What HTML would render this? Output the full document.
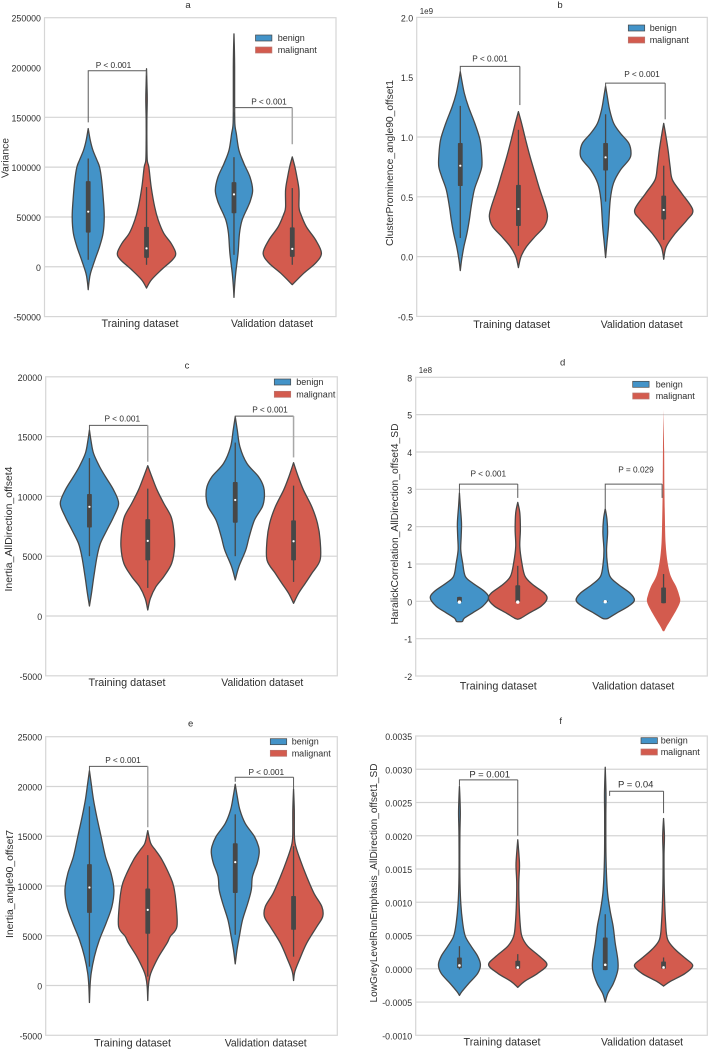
<!DOCTYPE html>
<html lang="en">
<head>
<meta charset="utf-8">
<title>Violin plots of radiomic features</title>
<style>
html,body{margin:0;padding:0;background:#fff;}
svg{display:block;font-family:"Liberation Sans",sans-serif;}
text{fill:#2e2e2e;}
</style>
</head>
<body>
<svg id="figure" xmlns="http://www.w3.org/2000/svg" width="709" height="1049" viewBox="0 0 709 1049"></svg>
<script>
/* ---------- shared categories ---------- */
const categories = ["Training dataset", "Validation dataset"];
const hues = ["benign", "malignant"];
const hueColors = ["#4393c8", "#d35b4e"];

/* ---------- panel a ---------- */
const aTicks = [-50000, 0, 50000, 100000, 150000, 200000, 250000];
const aTickLabels = ["-50000", "0", "50000", "100000", "150000", "200000", "250000"];
const aGrid = [0, 50000, 100000, 150000];
const aBenignTrainValues = [138700, 127000, 117000, 107000, 100000, 87000, 67000, 50000, 33700, 20300, 7000, -6300, -14700, -23000];
const aBenignTrainDensity = [0, .07, .16, .30, .39, .46, .52, .55, .51, .39, .23, .08, .03, 0];
const aBenignTrainBox = [7000, 34300, 55300, 86000, 108700];
const aMalignantTrainValues = [198700, 182000, 168000, 147000, 127000, 107000, 100000, 80000, 60000, 47000, 33700, 23700, 13700, 7000, -3000, -13000, -21300];
const aMalignantTrainDensity = [0, .015, .025, .012, .012, .025, .08, .16, .28, .40, .59, .84, 1, .89, .51, .17, 0];
const aMalignantTrainBox = [2000, 9000, 18500, 40000, 80000];
const aBenignValidValues = [233700, 217000, 200000, 167000, 143700, 133700, 117000, 103700, 90000, 77000, 67000, 60300, 47000, 33700, 13700, -6300, -20000, -30700];
const aBenignValidDensity = [0, .015, .022, .022, .03, .08, .17, .34, .55, .64, .57, .48, .28, .19, .14, .06, .02, 0];
const aBenignValidBox = [12000, 53700, 72700, 85000, 110000];
const aMalignantValidValues = [110300, 100300, 90000, 77000, 60000, 53700, 40300, 27000, 13700, 3700, -6300, -18000];
const aMalignantValidDensity = [0, .09, .16, .23, .23, .28, .48, .80, 1, .80, .40, 0];
const aMalignantValidBox = [2000, 10000, 18000, 39500, 79000];
const aBrackets = [[-0.2, 0.2, 196700, 145000, 192000], [0.8, 1.2, 159700, 155000, 123000]];
const aBracketLabels = ["P < 0.001", "P < 0.001"];

/* ---------- panel b (x 1e9) ---------- */
const bTicks = [-0.5, 0, 0.5, 1, 1.5, 2];
const bTickLabels = ["-0.5", "0.0", "0.5", "1.0", "1.5", "2.0"];
const bGrid = [0, 0.5, 1];
const bBenignTrainValues = [1.546, 1.476, 1.365, 1.253, 1.114, .975, .836, .752, .669, .557, .418, .306, .195, .084, -.028, -.117];
const bBenignTrainDensity = [0, .05, .14, .28, .50, .68, .74, .74, .64, .48, .375, .31, .23, .125, .045, 0];
const bBenignTrainBox = [.155, .59, .76, .95, 1.26];
const bMalignantTrainValues = [1.212, 1.114, .975, .836, .696, .557, .418, .334, .251, .167, .084, 0, -.092];
const bMalignantTrainDensity = [0, .11, .25, .40, .57, .74, .93, 1, .89, .57, .28, .09, 0];
const bMalignantTrainBox = [.09, .256, .398, .6, 1.06];
const bBenignValidValues = [1.426, 1.337, 1.226, 1.114, 1.031, .947, .864, .808, .724, .613, .474, .251, .111, -.008];
const bBenignValidDensity = [0, .06, .14, .28, .51, .80, .875, .80, .51, .27, .16, .10, .045, 0];
const bBenignValidBox = [.46, .72, .83, .95, 1.19];
const bMalignantValidValues = [1.114, 1.031, .891, .752, .641, .529, .39, .306, .195, .084, -.022];
const bMalignantValidDensity = [0, .06, .15, .22, .30, .62, 1, .80, .40, .09, 0];
const bMalignantValidBox = [.14, .31, .39, .51, .76];
const bBrackets = [[-0.2, 0.21, 1.59, 1.546, 1.267], [0.8, 1.21, 1.45, 1.42, 1.148]];
const bBracketLabels = ["P < 0.001", "P < 0.001"];

/* ---------- panel c ---------- */
const cTicks = [-5000, 0, 5000, 10000, 15000, 20000];
const cTickLabels = ["-5000", "0", "5000", "10000", "15000", "20000"];
const cGrid = [0, 5000, 10000, 15000];
const cBenignTrainValues = [15546, 14710, 13600, 12480, 11645, 10530, 9417, 8300, 7190, 6070, 4960, 3290, 1900, 836];
const cBenignTrainDensity = [0, .05, .14, .35, .55, .83, 1, .83, .60, .375, .26, .15, .07, 0];
const cBenignTrainBox = [5000, 7400, 9130, 10200, 13200];
const cMalignantTrainValues = [12565, 11645, 10530, 9417, 8300, 7190, 5795, 4400, 3290, 2450, 1476, 500];
const cMalignantTrainDensity = [0, .14, .32, .55, .80, .89, .92, .82, .55, .28, .09, 0];
const cMalignantTrainBox = [2350, 4650, 6280, 8100, 10650];
const cBenignValidValues = [16660, 15545, 14150, 12760, 11645, 10810, 9974, 9138, 8024, 6630, 5516, 4123, 3009];
const cBenignValidDensity = [0, .07, .16, .40, .80, .97, 1, .93, .66, .48, .36, .125, 0];
const cBenignValidBox = [5000, 7800, 9700, 11200, 14500];
const cMalignantValidValues = [12815, 11645, 10530, 9138, 7745, 6350, 4680, 3566, 2730, 1894, 1059];
const cMalignantValidDensity = [0, .16, .34, .625, .82, .91, .91, .625, .40, .17, 0];
const cMalignantValidBox = [2850, 4650, 6250, 8000, 10900];
const cBrackets = [[-0.2, 0.2, 15940, 15546, 12900], [0.8, 1.2, 16716, 16520, 13260]];
const cBracketLabels = ["P < 0.001", "P < 0.001"];

/* ---------- panel d (x 1e8) ---------- */
const dTicks = [-2, -1, 0, 1, 2, 3, 4, 5, 6];
const dTickLabels = ["-2", "-1", "0", "1", "2", "3", "4", "5", "8"];
const dGrid = [-1, 0, 1, 2, 3, 4, 5];
const dBenignTrainValues = [2.90, 2.54, 2.1, 1.74, 1.38, 1.03, .67, .49, .27, .09, -.13, -.31, -.45, -.54, -.545];
const dBenignTrainDensity = [0, .03, .07, .06, .045, .11, .20, .45, .85, 1, .8, .45, .17, .1, 0];
const dBenignTrainBox = [-.02, -.02, -.02, .12, .12];
const dMalignantTrainValues = [2.65, 2.37, 1.92, 1.47, 1.03, .67, .45, .22, .06, -.13, -.31, -.45, -.48];
const dMalignantTrainDensity = [0, .07, .09, .07, .14, .25, .51, .91, 1, .8, .4, .11, 0];
const dMalignantTrainBox = [-.02, -.02, -.02, .43, .95];
const dBenignValidValues = [2.48, 2.19, 1.83, 1.38, 1.03, .67, .45, .22, .03, -.13, -.31, -.45, -.47];
const dBenignValidDensity = [0, .06, .08, .045, .07, .16, .45, .85, 1, .8, .4, .11, 0];
const dBenignValidBox = [-.02, -.02, -.01, .02, .02];
const dMalignantValidValues = [5.13, 4.06, 2.99, 2.28, 1.56, 1.03, .67, .40, .18, 0, -.22, -.49, -.67, -.79, -.8];
const dMalignantValidDensity = [0, .02, .03, .045, .07, .14, .25, .43, .53, .57, .45, .25, .11, .03, 0];
const dMalignantValidBox = [-.05, -.05, null, .37, .73];
const dBrackets = [[-0.2, 0.2, 3.14, 2.9, 2.77], [0.8, 1.19, 3.14, 2.5, 2.77]];
const dBracketLabels = ["P < 0.001", "P = 0.029"];

/* ---------- panel e ---------- */
const eTicks = [-5000, 0, 5000, 10000, 15000, 20000, 25000];
const eTickLabels = ["-5000", "0", "5000", "10000", "15000", "20000", "25000"];
const eGrid = [0, 5000, 10000, 15000, 20000];
const eBenignTrainValues = [21590, 20316, 18640, 16970, 14960, 12950, 11280, 9606, 7930, 6260, 4585, 2910, 1238, -100, -1707];
const eBenignTrainDensity = [0, .06, .14, .25, .40, .55, .74, .84, .77, .57, .34, .17, .06, .02, 0];
const eBenignTrainBox = [1900, 7300, 9850, 12200, 18000];
const eMalignantTrainValues = [15560, 14290, 13620, 12620, 10945, 9940, 8267, 5924, 4920, 4250, 2912, 1573, 900, -100, -1506];
const eMalignantTrainDensity = [0, .10, .26, .49, .77, .89, .97, 1, .77, .66, .375, .15, .07, .02, 0];
const eMalignantTrainBox = [900, 5200, 7600, 9750, 13100];
const eBenignValidValues = [20216, 18977, 17640, 16300, 14960, 13957, 13288, 12284, 10945, 9606, 8267, 6594, 4920, 3581, 2176];
const eBenignValidDensity = [0, .07, .16, .34, .66, .80, .82, .75, .59, .55, .43, .25, .14, .06, 0];
const eBenignValidBox = [5100, 9300, 12400, 14300, 17200];
const eMalignantValidValues = [19750, 17640, 14960, 13957, 12618, 10945, 9270, 7930, 6930, 5924, 4250, 2577, 1406, 502];
const eMalignantValidDensity = [0, .025, .03, .08, .23, .45, .70, .97, 1, .80, .45, .20, .045, 0];
const eMalignantValidBox = [2900, 5600, null, 9000, 14000];
const eBrackets = [[-0.2, 0.2, 22020, 21650, 15900], [0.8, 1.2, 20920, 20480, 19810]];
const eBracketLabels = ["P < 0.001", "P < 0.001"];

/* ---------- panel f ---------- */
const fTicks = [-0.001, -0.0005, 0, 0.0005, 0.001, 0.0015, 0.002, 0.0025, 0.003, 0.0035];
const fTickLabels = ["-0.0010", "-0.0005", "0.0000", "0.0005", "0.0010", "0.0015", "0.0020", "0.0025", "0.0030", "0.0035"];
const fGrid = [-0.0005, 0, 0.0005, 0.001, 0.0015, 0.002, 0.0025, 0.003];
const fBenignTrainValues = [.00274, .00259, .00234, .00199, .00139, .00099, .00069, .00049, .00034, .00019, .00006, -.00007, -.00022, -.00034, -.0004];
const fBenignTrainDensity = [0, .015, .03, .015, .015, .045, .11, .20, .40, .625, .72, .625, .32, .09, 0];
const fBenignTrainBox = [-.00001, .00001, .00005, .00017, .00034];
const fMalignantTrainValues = [.00194, .00169, .00154, .00129, .00099, .00069, .00049, .00034, .00019, .00006, -.00007, -.00019, -.00028];
const fMalignantTrainDensity = [0, .045, .06, .035, .045, .08, .14, .34, .74, 1, .68, .23, 0];
const fMalignantTrainBox = [0, 0, .00002, .00012, .00022];
const fBenignValidValues = [.00303, .00264, .00229, .00169, .00119, .00089, .00064, .00039, .00014, -.00002, -.00022, -.00037, -.0005];
const fBenignValidDensity = [0, .025, .02, .025, .07, .16, .27, .34, .43, .43, .28, .09, 0];
const fBenignValidBox = [-.00002, -.00002, .00006, .00047, .00082];
const fMalignantValidValues = [.00226, .00199, .00169, .00119, .00069, .00044, .00029, .00016, .00005, -.00007, -.00019, -.00026];
const fMalignantValidDensity = [0, .03, .015, .025, .07, .14, .40, .74, 1, .74, .23, 0];
const fMalignantValidBox = [0, 0, .00002, .00011, .00017];
const fBrackets = [[-0.2, 0.2, .00284, .00275, .002], [0.83, 1.2, .00267, .0026, .00234]];
const fBracketLabels = ["P = 0.001", "P = 0.04"];

/* ---------- drawing ---------- */
const NS = "http://www.w3.org/2000/svg";
const root = document.getElementById("figure");
function make(parent, tag, attrs, txt) {
  const el = document.createElementNS(NS, tag);
  for (const k in attrs) el.setAttribute(k, attrs[k]);
  if (txt !== undefined) el.textContent = txt;
  parent.appendChild(el);
  return el;
}
function smooth(pts) {
  let d = "L" + pts[0][0].toFixed(2) + " " + pts[0][1].toFixed(2);
  for (let i = 0; i < pts.length - 1; i++) {
    const p0 = pts[Math.max(i - 1, 0)], p1 = pts[i], p2 = pts[i + 1], p3 = pts[Math.min(i + 2, pts.length - 1)];
    const c1x = p1[0] + (p2[0] - p0[0]) / 6, c1y = p1[1] + (p2[1] - p0[1]) / 6;
    const c2x = p2[0] - (p3[0] - p1[0]) / 6, c2y = p2[1] - (p3[1] - p1[1]) / 6;
    d += "C" + c1x.toFixed(2) + " " + c1y.toFixed(2) + " " + c2x.toFixed(2) + " " + c2y.toFixed(2) + " " + p2[0].toFixed(2) + " " + p2[1].toFixed(2);
  }
  return d;
}
function drawPanel(p) {
  const g = make(root, "g", {});
  
  

  const yScale = v => p.bottom - (v - p.yMin) / (p.yMax - p.yMin) * (p.bottom - p.top);
  const xScale = c => p.left + (c + 0.5) / 2 * (p.right - p.left);
  const widthScale = d => d * 0.2 / 2 * (p.right - p.left);

  p.grid.forEach(v => {
    const line = make(g, "line", {x1: p.left, x2: p.right, y1: yScale(v), y2: yScale(v), stroke: "#d4d4d4", "stroke-width": 1.2});
    
    
  });

  const frame = make(g, "rect", {x: p.left, y: p.top, width: p.right - p.left, height: p.bottom - p.top, fill: "none", stroke: "#d6d6d6", "stroke-width": 1.2});
  
  

  p.ticks.forEach((v, i) => {
    const t = make(g, "text", {x: p.left - 3.6, y: yScale(v) + 4, "text-anchor": "end", "font-size": 8.8}, p.tickLabels[i]);
    
    
  });

  p.violins.forEach(vi => {
    const center = vi.cat + (vi.hue === 0 ? -0.2 : 0.2);
    const cx = xScale(center);
    const right = vi.values.map((v, i) => [cx + widthScale(vi.density[i]), yScale(v)]);
    const left = vi.values.map((v, i) => [cx - widthScale(vi.density[i]), yScale(v)]).reverse();
    const d = "M" + smooth(right).slice(1) + smooth(left) + "Z";
    const outline = vi.outline === false ? {stroke: "none"} : {stroke: "#474747", "stroke-width": 1.3};
    const path = make(g, "path", Object.assign({d: d, fill: hueColors[vi.hue], "stroke-linejoin": "round"}, outline));
    
    

    const [wLo, q1, med, q3, wHi] = vi.box;
    const whisker = make(g, "line", {x1: cx, x2: cx, y1: yScale(wHi), y2: yScale(wLo), stroke: "#474747", "stroke-width": 1.3});
    
    
    const box = make(g, "rect", {x: cx - 2.4, width: 4.8, y: yScale(q3), height: Math.max(yScale(q1) - yScale(q3), 0.1), fill: "#474747", rx: 0.8});
    
    
    if (med !== null) {
      const dot = make(g, "circle", {cx: cx, cy: yScale(med), r: p.dotR, fill: "#fff"});
      
      
    }
  });

  p.brackets.forEach((b, i) => {
    const x0 = xScale(b[0]), x1 = xScale(b[1]), yt = yScale(b[2]);
    const br = make(g, "path", {d: "M" + x0 + " " + yScale(b[3]) + "V" + yt + "H" + x1, fill: "none", stroke: "#5a5a5a", "stroke-width": 1});
    
    
    const stem = make(g, "line", {x1: x1, x2: x1, y1: yt, y2: yScale(b[4]), stroke: p.fadedStems[i] ? "#a8a8a8" : "#5a5a5a", "stroke-width": p.fadedStems[i] ? 1.5 : 1});
    
    
    const t = make(g, "text", {x: p.pLabelX[i], y: p.pLabelY[i], "text-anchor": "middle", "font-size": p.pSize}, p.bracketLabels[i]);
    
    
  });

  p.catX.forEach((x, i) => {
    const t = make(g, "text", {x: x, y: p.catY, "text-anchor": "middle", "font-size": 11, textLength: i === 0 ? 77 : 82, lengthAdjust: "spacingAndGlyphs"}, categories[i]);
    
    
  });

  const title = make(g, "text", {x: p.titleX, y: p.titleY, "text-anchor": "middle", "font-size": 9.5}, p.id);
  
  

  const yt = make(g, "text", {transform: "translate(" + p.yTitleX + " " + p.yTitleY + ") rotate(-90)", "text-anchor": "middle", "font-size": 10.3, textLength: p.yTitleLen, lengthAdjust: "spacingAndGlyphs"}, p.yTitle);
  
  

  if (p.offset) {
    const o = make(g, "text", {x: p.left + 3, y: p.offsetY, "font-size": 8}, p.offset);
    
    
  }

  p.legendY.forEach((y, i) => {
    const sw = make(g, "rect", {x: p.legendX, y: y - 3, width: 16.4, height: 6, fill: hueColors[i], stroke: i === 0 ? "#474747" : "#b9776f", "stroke-width": 0.7});
    
    
    const t = make(g, "text", {x: p.legendTextX, y: y + 3, "font-size": 9}, hues[i]);
    
    
  });
}

drawPanel({id: "a", left: 44.5, right: 336, top: 17.7, bottom: 316.6, yMin: -50000, yMax: 250000,
  ticks: aTicks, tickLabels: aTickLabels, grid: aGrid, dotR: 1.1,
  violins: [
    {cat: 0, hue: 0, values: aBenignTrainValues, density: aBenignTrainDensity, box: aBenignTrainBox},
    {cat: 0, hue: 1, values: aMalignantTrainValues, density: aMalignantTrainDensity, box: aMalignantTrainBox},
    {cat: 1, hue: 0, values: aBenignValidValues, density: aBenignValidDensity, box: aBenignValidBox},
    {cat: 1, hue: 1, values: aMalignantValidValues, density: aMalignantValidDensity, box: aMalignantValidBox}],
  brackets: aBrackets, bracketLabels: aBracketLabels, fadedStems: [false, true], pLabelX: [113.5, 269], pLabelY: [68, 104.5], pSize: 8.3,
  catX: [140, 272], catY: 327, titleX: 188, titleY: 8, yTitleX: 8.5, yTitleY: 158, yTitleLen: 40, yTitle: "Variance",
  legendX: 255.5, legendY: [38, 50], legendTextX: 277.7});

drawPanel({id: "b", left: 416.7, right: 707.3, top: 17.4, bottom: 316.4, yMin: -0.5, yMax: 2,
  ticks: bTicks, tickLabels: bTickLabels, grid: bGrid, dotR: 1.1,
  violins: [
    {cat: 0, hue: 0, values: bBenignTrainValues, density: bBenignTrainDensity, box: bBenignTrainBox},
    {cat: 0, hue: 1, values: bMalignantTrainValues, density: bMalignantTrainDensity, box: bMalignantTrainBox},
    {cat: 1, hue: 0, values: bBenignValidValues, density: bBenignValidDensity, box: bBenignValidBox},
    {cat: 1, hue: 1, values: bMalignantValidValues, density: bMalignantValidDensity, box: bMalignantValidBox}],
  brackets: bBrackets, bracketLabels: bBracketLabels, fadedStems: [false, false], pLabelX: [490, 642], pLabelY: [61.5, 77], pSize: 8.3,
  catX: [511.7, 641.7], catY: 328, titleX: 560, titleY: 8, yTitleX: 393, yTitleY: 163, yTitleLen: 166, yTitle: "ClusterProminence_angle90_offset1",
  offset: "1e9", offsetY: 14, legendX: 628.3, legendY: [28, 40], legendTextX: 649.7});

drawPanel({id: "c", left: 45.7, right: 337.3, top: 376.8, bottom: 675.8, yMin: -5000, yMax: 20000,
  ticks: cTicks, tickLabels: cTickLabels, grid: cGrid, dotR: 1.1,
  violins: [
    {cat: 0, hue: 0, values: cBenignTrainValues, density: cBenignTrainDensity, box: cBenignTrainBox},
    {cat: 0, hue: 1, values: cMalignantTrainValues, density: cMalignantTrainDensity, box: cMalignantTrainBox},
    {cat: 1, hue: 0, values: cBenignValidValues, density: cBenignValidDensity, box: cBenignValidBox},
    {cat: 1, hue: 1, values: cMalignantValidValues, density: cMalignantValidDensity, box: cMalignantValidBox}],
  brackets: cBrackets, bracketLabels: cBracketLabels, fadedStems: [true, true], pLabelX: [122.3, 270], pLabelY: [421.5, 412.5], pSize: 8.3,
  catX: [127, 262.3], catY: 686, titleX: 187, titleY: 368.5, yTitleX: 12, yTitleY: 529, yTitleLen: 125, yTitle: "Inertia_AllDirection_offset4",
  legendX: 274.3, legendY: [382, 394.3], legendTextX: 296.3});

drawPanel({id: "d", left: 415.7, right: 707.3, top: 377.3, bottom: 676, yMin: -2, yMax: 6,
  ticks: dTicks, tickLabels: dTickLabels, grid: dGrid, dotR: 1.7,
  violins: [
    {cat: 0, hue: 0, values: dBenignTrainValues, density: dBenignTrainDensity, box: dBenignTrainBox},
    {cat: 0, hue: 1, values: dMalignantTrainValues, density: dMalignantTrainDensity, box: dMalignantTrainBox},
    {cat: 1, hue: 0, values: dBenignValidValues, density: dBenignValidDensity, box: dBenignValidBox},
    {cat: 1, hue: 1, values: dMalignantValidValues, density: dMalignantValidDensity, box: dMalignantValidBox, outline: false}],
  brackets: dBrackets, bracketLabels: dBracketLabels, fadedStems: [false, false], pLabelX: [488.3, 636], pLabelY: [476.5, 472.5], pSize: 8.3,
  catX: [498.3, 633.3], catY: 689.5, titleX: 562.7, titleY: 365.5, yTitleX: 398, yTitleY: 524, yTitleLen: 201, yTitle: "HaralickCorrelation_AllDirection_offset4_SD",
  offset: "1e8", offsetY: 373, legendX: 632.7, legendY: [384.3, 396], legendTextX: 655.7});

drawPanel({id: "e", left: 45.7, right: 337.3, top: 736.7, bottom: 1035.3, yMin: -5000, yMax: 25000,
  ticks: eTicks, tickLabels: eTickLabels, grid: eGrid, dotR: 1.1,
  violins: [
    {cat: 0, hue: 0, values: eBenignTrainValues, density: eBenignTrainDensity, box: eBenignTrainBox},
    {cat: 0, hue: 1, values: eMalignantTrainValues, density: eMalignantTrainDensity, box: eMalignantTrainBox},
    {cat: 1, hue: 0, values: eBenignValidValues, density: eBenignValidDensity, box: eBenignValidBox},
    {cat: 1, hue: 1, values: eMalignantValidValues, density: eMalignantValidDensity, box: eMalignantValidBox}],
  brackets: eBrackets, bracketLabels: eBracketLabels, fadedStems: [true, false], pLabelX: [123, 266.3], pLabelY: [763, 775], pSize: 8.3,
  catX: [132.5, 265.7], catY: 1046.5, titleX: 190.7, titleY: 726.5, yTitleX: 13, yTitleY: 884, yTitleLen: 108, yTitle: "Inertia_angle90_offset7",
  legendX: 270.3, legendY: [741.7, 753.3], legendTextX: 291.7});

drawPanel({id: "f", left: 415.7, right: 707.3, top: 736, bottom: 1035.3, yMin: -0.001, yMax: 0.0035,
  ticks: fTicks, tickLabels: fTickLabels, grid: fGrid, dotR: 1.3,
  violins: [
    {cat: 0, hue: 0, values: fBenignTrainValues, density: fBenignTrainDensity, box: fBenignTrainBox},
    {cat: 0, hue: 1, values: fMalignantTrainValues, density: fMalignantTrainDensity, box: fMalignantTrainBox},
    {cat: 1, hue: 0, values: fBenignValidValues, density: fBenignValidDensity, box: fBenignValidBox},
    {cat: 1, hue: 1, values: fMalignantValidValues, density: fMalignantValidDensity, box: fMalignantValidBox}],
  brackets: fBrackets, bracketLabels: fBracketLabels, fadedStems: [false, false], pLabelX: [489.7, 635.7], pLabelY: [777.5, 787.5], pSize: 9.5,
  catX: [502, 642], catY: 1045.5, titleX: 560.7, titleY: 724, yTitleX: 377, yTitleY: 883, yTitleLen: 239, yTitle: "LowGreyLevelRunEmphasis_AllDirection_offset1_SD",
  legendX: 641, legendY: [740.7, 752], legendTextX: 660.7});
</script>
</body>
</html>
